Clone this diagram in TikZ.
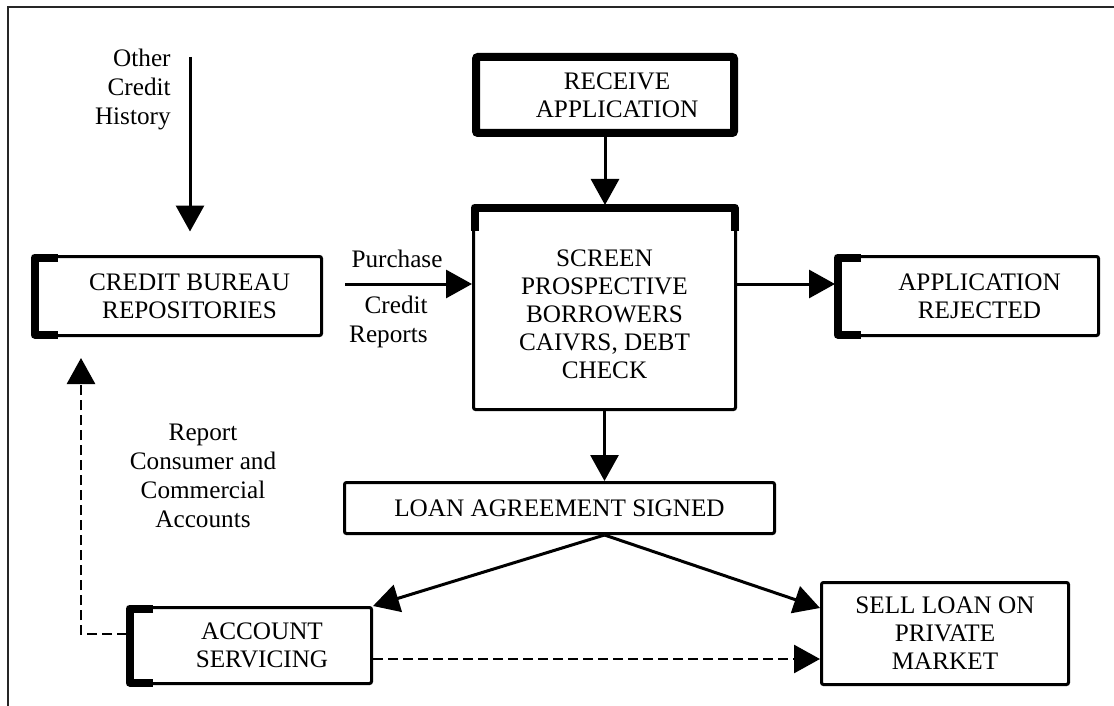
\documentclass[tikz,border=0pt]{standalone}
\usepackage{fontspec}
\setmainfont{Liberation Serif}
\usetikzlibrary{arrows.meta}

\begin{document}
\begin{tikzpicture}[x=0.5pt,y=-0.5pt,
	box/.style={draw,line width=1.5pt,rounded corners=1pt,inner sep=0pt,align=center,font=\fontsize{12.6}{14}\selectfont},
	txt/.style={align=center,inner sep=0pt,font=\fontsize{12.6}{14}\selectfont},
	lbl/.style={inner sep=0pt,font=\fontsize{12.6}{14.5}\selectfont},
	thickedge/.style={line width=4pt,line join=round},
	arr/.style={line width=1.5pt,-{Triangle[width=14pt,length=13pt]}},
	dasharr/.style={arr,line width=1.4pt,dash pattern=on 5pt off 2.5pt}]
	\useasboundingbox (0,0) rectangle (1114,706);
	\draw[line width=1pt,black!85] (8,706) -- (8,7) -- (1114,7);
	% boxes
	\node[box,line width=4pt,minimum width=129pt,minimum height=38pt,label={[txt,xshift=6pt]center:RECEIVE\\APPLICATION}] (receive) at (605,95) {};
	\node[box,minimum width=131pt,minimum height=101.5pt,label={[txt,yshift=-3.25pt]center:SCREEN\\PROSPECTIVE\\BORROWERS\\CAIVRS, DEBT\\CHECK}] (screen) at (604.5,308) {};
	\node[box,minimum width=144pt,minimum height=39.5pt,label={[txt,xshift=6pt]center:CREDIT BUREAU\\REPOSITORIES}] (bureau) at (177.5,296) {};
	\node[box,minimum width=131pt,minimum height=39.5pt,label={[txt,xshift=6pt]center:APPLICATION\\REJECTED}] (rejected) at (967.5,296) {};
	\node[box,minimum width=215pt,minimum height=25.5pt] (loan) at (559.5,508) {LOAN AGREEMENT SIGNED};
	\node[box,minimum width=121.5pt,minimum height=38pt,label={[txt,xshift=6pt]center:ACCOUNT\\SERVICING}] (account) at (250,645.5) {};
	\node[box,minimum width=123.5pt,minimum height=51pt] (sell) at (945,633.5) {SELL LOAN ON\\PRIVATE\\MARKET};
	% thick edges
	\foreach \b in {bureau,rejected,account}
		\draw[thickedge] ([shift={(13pt,-1.25pt)}]\b.north west) -- ([shift={(1.25pt,-1.25pt)}]\b.north west) -- ([shift={(1.25pt,1.25pt)}]\b.south west) -- ([shift={(13pt,1.25pt)}]\b.south west);
	\draw[thickedge] ([shift={(1.25pt,-12.75pt)}]screen.north west) -- ([shift={(1.25pt,-1.25pt)}]screen.north west) -- ([shift={(-1.25pt,-1.25pt)}]screen.north east) -- ([shift={(-1.25pt,-12.75pt)}]screen.north east);
	% labels
	\node[lbl,align=right,anchor=east] (history) at (171,89) {Other\\Credit\\History};
	\node[lbl,anchor=base] (purchase) at (397,267) {Purchase};
	\node[lbl,align=right,anchor=east] (reports) at (428,322) {Credit\\Reports};
	\node[lbl,align=center] (report) at (203,475.5) {Report\\Consumer and\\Commercial\\Accounts};
	% arrows
	\coordinate (histtop) at (190,57);
	\coordinate (purch) at (345,284);
	\coordinate (reptip) at (81,358);
	\draw[arr,shorten >=11.75pt] (histtop) -- (histtop |- bureau.north);
	\draw[arr] (receive.south) -- (receive.south |- screen.north);
	\draw[arr] (purch) -- (purch -| screen.west);
	\draw[arr] (screen.east |- purch) -- (rejected.west |- purch);
	\draw[arr] (screen.south) -- (screen.south |- loan.north);
	\draw[arr] (screen.south |- loan.south) -- (account.north east);
	\draw[arr] (screen.south |- loan.south) -- ([yshift=12.75pt]sell.west);
	\draw[dasharr] ([yshift=-6.75pt]account.east) -- ([yshift=-6.75pt]account.east -| sell.west);
	\draw[dasharr] ([yshift=5.75pt]account.west) -| (reptip);
\end{tikzpicture}
\end{document}
